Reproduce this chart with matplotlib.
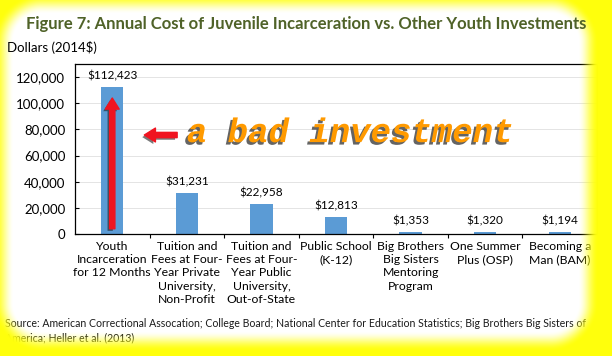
import matplotlib
matplotlib.use("Agg")
import matplotlib.pyplot as plt
import matplotlib.patheffects as pe
import numpy as np

categories = [
    "Youth\nIncarceration\nfor 12 Months",
    "Tuition and\nFees at Four-\nYear Private\nUniversity,\nNon-Profit",
    "Tuition and\nFees at Four-\nYear Public\nUniversity,\nOut-of-State",
    "Public School\n(K-12)",
    "Big Brothers\nBig Sisters\nMentoring\nProgram",
    "One Summer\nPlus (OSP)",
    "Becoming a\nMan (BAM)",
]
costs = [112423, 31231, 22958, 12813, 1353, 1320, 1194]
yticks = [0, 20000, 40000, 60000, 80000, 100000, 120000]

title = "Figure 7: Annual Cost of Juvenile Incarceration vs. Other Youth Investments"
ylabel = "Dollars (2014$)"
source = ("Source: American Correctional Assocation; College Board; National Center for Education Statistics; Big Brothers Big Sisters of\n"
          "America; Heller et al. (2013)")
note = "a bad investment"

plt.rcParams['font.family'] = ['Lato', 'DejaVu Sans']

fig = plt.figure(figsize=(6.12, 3.56), dpi=100)
fig.patch.set_facecolor("white")
ax = fig.add_axes([0.1225, 0.3427, 0.853, 0.4775])

x = np.arange(len(costs))
bars = ax.bar(x, costs, width=0.3, color="#5B9BD5", zorder=2)
for xi, v in zip(x, costs):
    ax.annotate("${:,}".format(v), (xi, v), xytext=(0, 4), textcoords="offset points",
                ha="center", va="bottom", fontsize=8.5, color="black")

ax.set_xlim(-0.5, len(costs) - 0.5)
ax.set_ylim(0, 130000)
ax.set_yticks(yticks)
ax.set_yticklabels(["{:,}".format(t) for t in yticks], fontsize=9.5)
ax.set_xticks(x)
ax.set_xticklabels(categories, fontsize=8.8, linespacing=1.25)
ax.set_xticks(np.arange(0.5, len(costs) - 1, 1), minor=True)
ax.tick_params(axis="x", which="major", length=0, pad=5)
ax.tick_params(axis="x", which="minor", length=3, direction="out", width=0.8)
ax.tick_params(axis="y", length=3, direction="in", width=0.8, pad=7)
ax.grid(axis="y", color="#e4e4e4", lw=0.7, zorder=0)
for s in ax.spines.values():
    s.set_color("black")
    s.set_linewidth(0.9)

# red arrows with shadow
shadow = [pe.SimplePatchShadow(offset=(-1.5, -1.5), shadow_rgbFace="#202020", alpha=0.6), pe.Normal()]
a1 = ax.annotate("", xy=(0, 104000), xytext=(0, 4000),
                 arrowprops=dict(arrowstyle="simple,head_length=0.8,head_width=1.0,tail_width=0.38",
                                 mutation_scale=10, color="#f01420", shrinkA=0, shrinkB=0), zorder=5)
a1.arrow_patch.set_path_effects(shadow)
a2 = ax.annotate("", xy=(0.43, 75700), xytext=(0.87, 75700),
                 arrowprops=dict(arrowstyle="simple,head_length=0.8,head_width=1.0,tail_width=0.38",
                                 mutation_scale=10, color="#f01420", shrinkA=0, shrinkB=0), zorder=5)
a2.arrow_patch.set_path_effects(shadow)

ax.text(1.0, 70300, note, ha="left", va="baseline", fontsize=24.5, fontweight="bold",
        style="italic", family="Liberation Mono", color="#ff9a00", zorder=6,
        path_effects=[pe.SimplePatchShadow(offset=(-1.8, -1.8), shadow_rgbFace="#303030", alpha=0.75),
                      pe.Normal()])

fig.text(0.5, 1 - 24 / 356, title, ha="center", va="center", fontsize=12,
         fontweight="bold", color="#4F6228", zorder=20)
fig.text(7 / 612, 1 - 47 / 356, ylabel, ha="left", va="center", fontsize=9.5, zorder=20)
fig.text(5 / 612, 1 - 318 / 356, source, ha="left", va="top", fontsize=7.6,
         linespacing=1.35, color="#1a1a1a", zorder=3)

# yellow glow round the edges: soft band outside a rounded rectangle
W, H = 612, 356
gx, gy = np.meshgrid(np.arange(W) + 0.5, np.arange(H) + 0.5)
x0, x1, y0, y1, rad, w = 14, 578, 14, 331, 28, 20
dx = np.maximum(np.maximum((x0 + rad) - gx, gx - (x1 - rad)), 0)
dy = np.maximum(np.maximum((y0 + rad) - gy, gy - (y1 - rad)), 0)
d = np.clip(np.hypot(dx, dy) - rad, 0, None)
t = np.clip(d / w, 0, 1)
alpha = t * t * (3 - 2 * t)
img = np.zeros((H, W, 4))
img[..., 0] = 1.0
img[..., 1] = 1.0
img[..., 2] = 0.05
img[..., 3] = alpha
gax = fig.add_axes([0, 0, 1, 1], zorder=10)
gax.imshow(img, extent=(0, W, H, 0), aspect="auto", interpolation="bilinear")
gax.set_xlim(0, W)
gax.set_ylim(H, 0)
gax.axis("off")

fig.savefig("out.png", dpi=100)
